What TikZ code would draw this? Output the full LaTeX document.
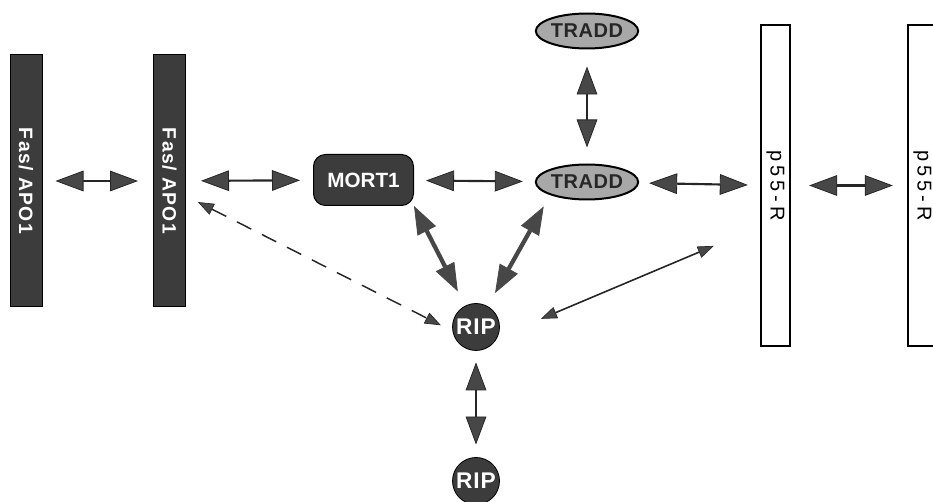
\documentclass[tikz,border=0pt]{standalone}
\usepackage{fontspec}
\usepackage{graphicx}
\setmainfont{Liberation Sans}
\usetikzlibrary{arrows.meta,shapes.geometric}
\definecolor{dk}{HTML}{3C3C3C}
\definecolor{trg}{HTML}{A8A8A8}
\definecolor{arr}{HTML}{474747}
\begin{document}
\begin{tikzpicture}[x=0.75pt,y=-0.75pt,
  bar/.style={draw=black, line width=0.75pt, fill=dk, minimum width=24pt, minimum height=189pt, inner sep=0pt, text=white,
    font=\bfseries\fontsize{14.5}{16}\selectfont\addfontfeature{LetterSpace=7}},
  pbox/.style={draw=black, line width=1.5pt, fill=white, minimum width=22pt, minimum height=240.75pt, inner sep=0pt,
    font=\fontsize{15}{17}\selectfont\addfontfeature{LetterSpace=20}},
  mortbox/.style={draw=black, line width=0.75pt, fill=dk, rounded corners=9pt, minimum width=75pt, minimum height=38.25pt, inner sep=0pt,
    text=white, font=\bfseries\fontsize{15.5}{17}\selectfont},
  traddbox/.style={ellipse, draw=black, line width=1.5pt, fill=trg, minimum width=75pt, minimum height=26.25pt, inner sep=0pt,
    text=black!85, font=\bfseries\fontsize{15}{17}\selectfont\addfontfeature{LetterSpace=3}},
  ripbox/.style={circle, draw=black, line width=0.6pt, fill=dk, minimum size=35.25pt, inner sep=0pt, text=white,
    font=\bfseries\fontsize{17}{19}\selectfont\addfontfeature{LetterSpace=4}},
  bigtip/.tip={Triangle[length=21pt,width=15.5pt,fill=arr,line width=0.6pt]},
  smalltip/.tip={Triangle[length=12pt,width=9pt,fill=arr,line width=0.5pt]},
  big/.style={line width=1.6pt, draw=black!85, bigtip-bigtip},
  diag/.style={line width=3.2pt, draw=arr, bigtip-bigtip},
  thinarr/.style={line width=1.2pt, draw=black!85, smalltip-smalltip},
  dasharr/.style={line width=1.1pt, draw=black!85, dash pattern=on 12pt off 9pt, smalltip-smalltip}
]
\useasboundingbox (0,0) rectangle (933,502);
\clip (0,0) rectangle (933,502);

\node[bar] (fas1) at (26,181) {\rotatebox{-90}{Fas/ APO1}};
\node[bar] (fas2) at (169.5,181) {\rotatebox{-90}{Fas/ APO1}};
\node[mortbox] (mort) at (363.5,180) {MORT1};
\node[traddbox] (tradd) at (587,182) {TRADD};
\node[traddbox] (tradd2) at (587,31) {TRADD};
\node[pbox] (p55a) at (775.5,185.5) {\rotatebox{-90}{p55-R}};
\node[pbox] (p55b) at (922.5,185.5) {\rotatebox{-90}{p55-R}};
\node[ripbox] (rip1) at (476,327) {RIP};
\node[ripbox] (rip2) at (476,481) {RIP};

\draw[big, shorten <=9.75pt, shorten >=11.25pt] (fas1) -- (fas2);
\draw[big, shorten <=11.25pt, shorten >=9.75pt] (fas2) -- (mort);
\draw[big, shorten <=9pt, shorten >=9pt] (mort) -- (tradd);
\draw[big, shorten <=7.5pt, shorten >=9pt] (tradd) -- (p55a);
\draw[big, shorten <=13.5pt, shorten >=10.5pt] (p55a) -- (p55b);
\draw[big, shorten <=12.75pt, shorten >=12pt] (tradd2) -- (tradd);
\draw[big, shorten <=8.6pt, shorten >=9.4pt] (rip1) -- (rip2);

\draw[diag, shorten >=12pt] (mort.south east) -- (rip1);
\draw[diag, shorten <=9.75pt, shorten >=11.25pt] (tradd.south west) -- (rip1);

\draw[dasharr, shorten <=10pt, shorten >=9.75pt] ([yshift=-11.25pt]fas2.east) -- (rip1.190);
\draw[thinarr, shorten <=37.5pt, shorten >=35.25pt] ([yshift=-30.75pt]p55a.west) -- (rip1.-25);
\end{tikzpicture}
\end{document}
